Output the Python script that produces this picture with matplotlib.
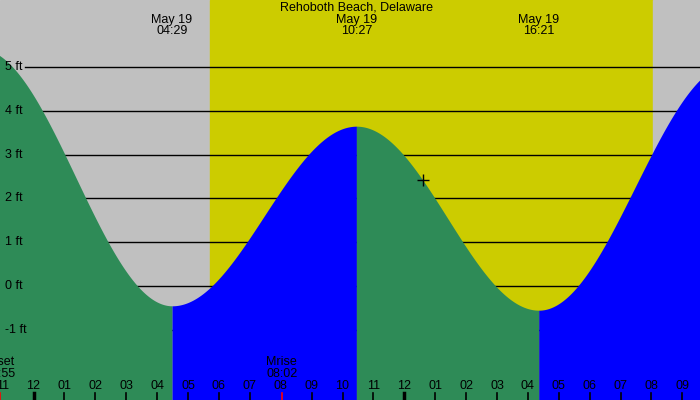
import numpy as np
import matplotlib.pyplot as plt

# tide extremes: hours from midnight May 19, height in ft
extreme_hours = [-1.75, 4.483, 10.45, 16.35, 22.6]
extreme_heights = [5.42, -0.45, 3.65, -0.55, 5.08]
extreme_labels = ["", "May 19\n04:29", "May 19\n10:27", "May 19\n16:21", ""]
sunrise, sunset = 5.71, 20.05
moon_events = [(-1.08, "Mset\n22:55"), (8.03, "Mrise\n08:02")]
now_hour, now_height = 12.62, 2.42
ft_levels = [-1, 0, 1, 2, 3, 4, 5]
hour_labels = ["11", "12", "01", "02", "03", "04", "05", "06", "07", "08", "09", "10",
               "11", "12", "01", "02", "03", "04", "05", "06", "07", "08", "09"]

x0, x1 = -1.085, 21.57
y0, y1 = -2.6, 6.53

plt.rcParams['font.family'] = ['Liberation Sans Narrow', 'Liberation Sans', 'DejaVu Sans']
fig = plt.figure(figsize=(7, 4), dpi=100)
ax = fig.add_axes([0, 0, 1, 1])
ax.set_xlim(x0, x1)
ax.set_ylim(y0, y1)
ax.axis('off')

ax.axvspan(x0, sunrise, color='#c0c0c0', zorder=0)
ax.axvspan(sunrise, sunset, color='#cccc00', zorder=0)
ax.axvspan(sunset, x1, color='#c0c0c0', zorder=0)

for lv in ft_levels:
    ax.plot([x0 + 0.8, x1], [lv, lv], color='black', lw=1, zorder=1)
    ax.text(x0 + 0.15, lv, f"{lv} ft", fontsize=9, va='center', ha='left', zorder=4)

# cosine curve between successive extremes, green falling, blue rising
for i in range(len(extreme_hours) - 1):
    ta, tb = extreme_hours[i], extreme_hours[i + 1]
    ha, hb = extreme_heights[i], extreme_heights[i + 1]
    t = np.linspace(ta, tb, 200)
    h = ha + (hb - ha) * (1 - np.cos(np.pi * (t - ta) / (tb - ta))) / 2
    col = '#2e8b57' if hb < ha else '#0000ff'
    ax.fill_between(t, y0, h, color=col, lw=0, zorder=2)

for hr, lab in zip(extreme_hours, extreme_labels):
    if lab:
        ax.text(hr, 5.68, lab, fontsize=9, ha='center', va='bottom', linespacing=0.9)
ax.text(10.45, 6.36, "Rehoboth Beach, Delaware", fontsize=9, ha='center', va='center')

for hr, lab in moon_events:
    ax.text(hr, -1.87, lab, fontsize=9, ha='center', va='center', linespacing=0.9, zorder=4)
    ax.plot([hr, hr], [y0, y0 + 0.16], color='red', lw=1.2, zorder=4)

for i, lab in enumerate(hour_labels):
    hr = i - 1
    ax.text(hr, -2.28, lab, fontsize=9, ha='center', va='center', zorder=4)
    if abs(hr - (-1.08)) > 0.1 and abs(hr - 8.03) > 0.1:
        ax.plot([hr, hr], [y0, y0 + 0.16], color='black', lw=2.5 if hr % 12 == 0 else 1.2, zorder=4)

ax.plot(now_hour, now_height, marker='+', color='black', ms=8, mew=1, zorder=5)

fig.savefig('out.png', dpi=100)
